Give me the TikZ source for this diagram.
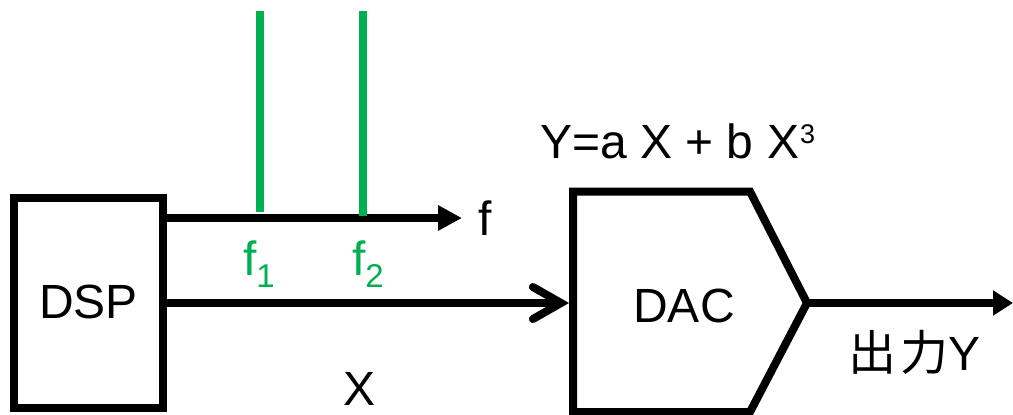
\documentclass[tikz,border=0pt]{standalone}
\usepackage{fontspec}
\setmainfont{Liberation Sans}
\newfontfamily\cjkfont{Noto Sans CJK JP}
\usetikzlibrary{arrows.meta}
\definecolor{siggreen}{RGB}{0,176,80}
\tikzset{
  box/.style={draw=black, line width=8pt, rectangle, inner sep=0pt},
  wire/.style={draw=black, line width=8pt},
  tone/.style={draw=siggreen, line width=8pt},
  lbl/.style={inner sep=0pt, font=\fontsize{48}{56}\selectfont},
  glbl/.style={lbl, text=siggreen},
}
\newcommand{\subdig}[1]{\raisebox{-12pt}{\fontsize{33}{33}\selectfont #1}}
\begin{document}
\begin{tikzpicture}[x=1pt, y=-1pt]
\useasboundingbox (0,0) rectangle (1013,415);
% DSP block
\node[box, minimum width=149pt, minimum height=210pt] (dsp) at (88.5,303) {};
\node[lbl, anchor=base] (dsplbl) at (88.5,318) {DSP};
% DAC block
\coordinate (dacin) at (573,303);
\coordinate (dactip) at (807,303);
\draw[wire, line join=miter] (573,191.5) -- (750,191.5) -- (dactip) -- (750,412) -- (573,412) -- cycle;
\node[lbl, anchor=base] (daclbl) at (684,322) {DAC};
% frequency axis
\coordinate (ftip) at (462,218);
\draw[wire, -{Triangle[length=24pt, width=24pt]}] (dsp.east |- ftip) -- (ftip);
\node[lbl, anchor=base west] (flbl) at (478,235) {f};
% tones
\coordinate (g1top) at (259.5,11);
\coordinate (g1bot) at (259.5,212);
\coordinate (g2top) at (363,11);
\coordinate (g2bot) at (363,216);
\draw[tone] (g1top) -- (g1bot);
\draw[tone] (g2top) -- (g2bot);
\node[glbl, anchor=base] (f1lbl) at (259,275) {f\subdig{1}};
\node[glbl, anchor=base] (f2lbl) at (368,275) {f\subdig{2}};
% signal X
\coordinate (dacedge) at (569,303);
\draw[wire, -{Straight Barb[length=28pt, width=32pt, line cap=round]}] (dsp.east) -- (dacedge);
\node[lbl, anchor=base] (xlbl) at (360,405) {X};
% output
\coordinate (outend) at (1013,303);
\draw[wire, -{Triangle[length=20pt, width=24pt]}] (dactip) -- (outend);
\node[lbl, anchor=base west] (ylbl) at (848,370) {{\cjkfont 出\kern4pt 力}Y};
% equation
\node[lbl, anchor=base west] (eq) at (540,158) {Y=a X + b X\kern1pt\raisebox{15pt}{\fontsize{27}{27}\selectfont 3}};
\end{tikzpicture}
\end{document}
